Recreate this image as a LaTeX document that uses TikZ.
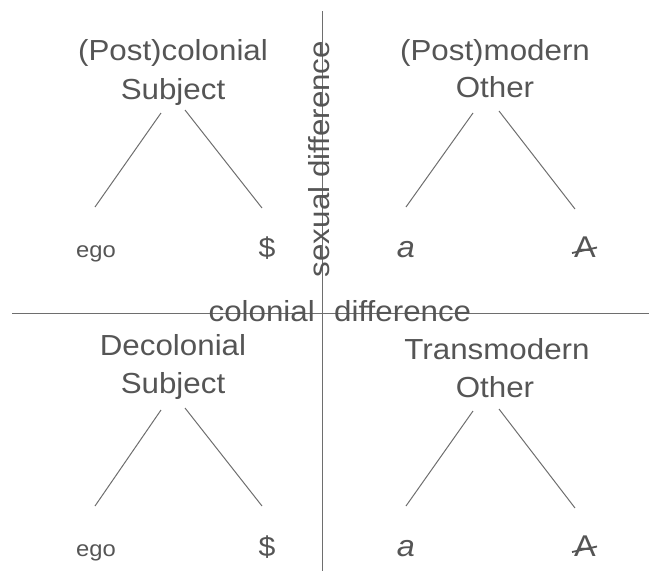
\documentclass[tikz,border=0pt]{standalone}
\usepackage{fontspec}
\setmainfont{Liberation Sans}[FakeStretch=1.08]
\definecolor{txt}{HTML}{555555}
\definecolor{ln}{HTML}{6E6E6E}
\begin{document}
\begin{tikzpicture}[x=1pt,y=-1pt,
  title/.style={text=txt, font=\fontsize{29}{34}\selectfont, anchor=base, inner sep=0pt},
  lbl/.style={text=txt, font=\fontsize{22}{26}\selectfont, anchor=base, inner sep=0pt},
  sym/.style={text=txt, font=\fontsize{28}{32}\selectfont, anchor=base, inner sep=0pt},
  bigsym/.style={text=txt, font=\fontsize{30}{34}\selectfont, anchor=base, inner sep=0pt},
  axislabel/.style={text=txt, font=\fontsize{29}{34}\selectfont, inner sep=0pt},
  axisline/.style={draw=ln, line width=1pt},
  branch/.style={draw=ln, line width=1pt},
  barline/.style={draw=txt, line width=1.8pt}]
\useasboundingbox (0,0) rectangle (649,573);

% axes
\coordinate (vtop) at (322,11);
\coordinate (vbot) at (322,571);
\coordinate (hleft) at (12,313);
\coordinate (hright) at (649,313);
\draw[axisline] (vtop) -- (vbot);
\draw[axisline] (hleft) -- (hright);
\node[axislabel, rotate=90, anchor=base] (sexdiff) at (329,159) {sexual difference};
\node[axislabel, anchor=base east] (col) at (315,321) {colonial};
\node[axislabel, anchor=base west] (diff) at (334,321) {difference};

% titles
\node[title] (t1a) at (173,60) {(Post)colonial};
\node[title] (t1b) at (173,99) {Subject};
\node[title] (t2a) at (495,60) {(Post)modern};
\node[title] (t2b) at (495,97) {Other};
\node[title] (t3a) at (173,355) {Decolonial};
\node[title] (t3b) at (173,393) {Subject};
\node[title] (t4a) at (497,359) {Transmodern};
\node[title] (t4b) at (495,397) {Other};

% leaves
\node[lbl] (ego1) at (96,257) {ego};
\node[sym] (dol1) at (267,257) {\$};
\node[bigsym] (a1) at (406,257) {\itshape a};
\node[bigsym] (A1) at (585,257) {A};
\node[lbl] (ego2) at (96,556) {ego};
\node[sym] (dol2) at (267,556) {\$};
\node[bigsym] (a2) at (406,556) {\itshape a};
\node[bigsym] (A2) at (585,556) {A};

% bars through A
\coordinate (b1l) at (572,253); \coordinate (b1r) at (597,247.5);
\coordinate (b2l) at (572,552); \coordinate (b2r) at (597,546.5);
\draw[barline] (b1l) -- (b1r);
\draw[barline] (b2l) -- (b2r);

% branches
\coordinate (p1l) at (161,113); \coordinate (q1l) at (95,207);
\coordinate (p1r) at (185,110); \coordinate (q1r) at (262,208);
\coordinate (p2l) at (473,113); \coordinate (q2l) at (406,207);
\coordinate (p2r) at (499,111); \coordinate (q2r) at (575,209);
\coordinate (p3l) at (161,410); \coordinate (q3l) at (95,506);
\coordinate (p3r) at (185,408); \coordinate (q3r) at (262,506);
\coordinate (p4l) at (473,411); \coordinate (q4l) at (406,506);
\coordinate (p4r) at (499,409); \coordinate (q4r) at (575,508);
\foreach \i in {1,2,3,4} {
  \draw[branch] (p\i l) -- (q\i l);
  \draw[branch] (p\i r) -- (q\i r);
}
\end{tikzpicture}
\end{document}
